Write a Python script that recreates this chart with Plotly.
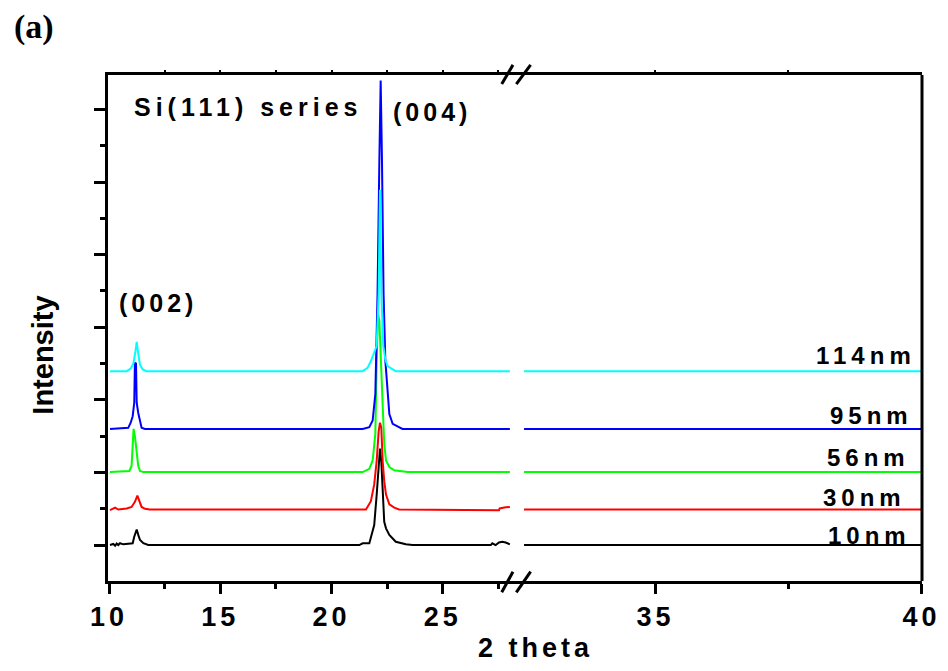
import plotly.graph_objects as go

# ---------------- data ----------------
labels = ["10nm", "30nm", "56nm", "95nm", "114nm"]
colors = ["#000000", "#ff0000", "#00ff00", "#0000ff", "#00ffff"]
offsets = [0.0, 0.98, 2.01, 3.2, 4.79]

x_10 = [10.04, 10.19, 10.27, 10.34, 10.41, 10.49, 10.64, 10.79, 10.94, 11.06, 11.13, 11.24, 11.31, 11.39, 11.54, 11.76,
        21.25, 21.40, 21.70, 21.85, 21.92, 22.03, 22.12, 22.18, 22.24, 22.30, 22.37, 22.45, 22.60, 22.89, 23.34, 23.64,
        27.16, 27.23, 27.38, 27.53, 27.68, 27.83, 27.98, 28.02]
y_10 = [0.0, 0.03, -0.02, 0.04, 0.0, 0.05, 0.02, 0.03, 0.04, 0.05, 0.23, 0.43, 0.28, 0.14, 0.05, 0.0,
        0.0, 0.05, 0.05, 0.37, 0.55, 1.38, 2.3, 2.66, 2.3, 1.38, 0.64, 0.46, 0.28, 0.09, 0.02, 0.0,
        0.0, 0.05, 0.0, 0.07, 0.09, 0.07, 0.02, 0.02]

x_30 = [10.04, 10.19, 10.27, 10.41, 10.79, 11.01, 11.16, 11.27, 11.36, 11.46, 11.61, 11.83,
        21.55, 21.77, 21.92, 22.03, 22.12, 22.18, 22.24, 22.30, 22.37, 22.45, 22.60, 22.82, 23.04,
        27.53, 27.56, 27.68, 27.83, 28.02]
y_30 = [-0.02, 0.03, 0.05, 0.0, 0.03, 0.07, 0.21, 0.38, 0.21, 0.07, 0.02, 0.0,
        0.0, 0.23, 0.69, 1.33, 2.16, 2.39, 2.25, 1.33, 0.78, 0.41, 0.14, 0.05, 0.0,
        -0.02, 0.03, 0.05, 0.06, 0.07]

x_56 = [10.04, 10.91, 11.01, 11.06, 11.10, 11.16, 11.24, 11.31, 11.39, 11.54,
        21.40, 21.70, 21.85, 21.97, 22.03, 22.09, 22.15, 22.22, 22.30, 22.37, 22.45, 22.60, 22.82, 23.42,
        28.02]
y_56 = [0.0, 0.03, 0.17, 0.99, 1.19, 0.99, 0.53, 0.17, 0.03, 0.0,
        0.0, 0.09, 0.32, 1.06, 3.08, 4.36, 4.18, 3.08, 1.70, 0.78, 0.32, 0.14, 0.05, 0.0,
        0.0]

x_95 = [10.04, 10.86, 10.97, 11.06, 11.13, 11.16, 11.21, 11.24, 11.31, 11.39, 11.46, 11.61,
        21.40, 21.70, 21.85, 21.97, 22.07, 22.15, 22.21, 22.27, 22.34, 22.42, 22.52, 22.60, 22.75, 23.04, 23.19,
        28.02]
y_95 = [0.0, 0.03, 0.17, 0.35, 0.72, 1.82, 1.80, 0.72, 0.44, 0.17, 0.03, 0.0,
        0.0, 0.05, 0.23, 0.96, 3.72, 7.35, 9.6, 7.35, 3.72, 1.88, 0.96, 0.41, 0.14, 0.05, 0.0,
        0.0]

x_114 = [10.04, 10.79, 10.97, 11.09, 11.18, 11.24, 11.30, 11.39, 11.51, 11.68,
         21.40, 21.62, 21.77, 21.92, 22.03, 22.12, 22.18, 22.24, 22.33, 22.42, 22.52, 22.75, 22.89,
         28.02]
y_114 = [0.0, 0.0, 0.07, 0.21, 0.53, 0.81, 0.53, 0.17, 0.05, 0.0,
         0.0, 0.09, 0.28, 0.51, 0.69, 2.16, 5.0, 2.16, 0.69, 0.32, 0.14, 0.05, 0.0,
         0.0]

x_right = [32.53, 40.0]          # flat baselines after the axis break
y_right = [0.0, 0.0]

xs = [x_10, x_30, x_56, x_95, x_114]
ys = [y_10, y_30, y_56, y_95, y_114]

left_ticks = [10, 15, 20, 25]
left_minor = [12.5, 17.5, 22.5, 27.5]
left_top = [12.5, 15, 17.5, 20, 22.5, 25, 27.5]
right_ticks = [35, 40]
right_minor = [37.5]
right_top = [35, 37.5]
y_major = [0, 2, 4, 6, 8, 10, 12]
y_minor = [1, 3, 5, 7, 9, 11]

label_pos = {  # paper coordinates of the curve labels (right edge, middle)
    "114nm": (0.995, 0.4466), "95nm": (0.992, 0.328), "56nm": (0.988, 0.245),
    "30nm": (0.983, 0.166), "10nm": (0.989, 0.0909)}

# ---------------- figure ----------------
fig = go.Figure()
for name, c, off, x, y in zip(labels, colors, offsets, xs, ys):
    fig.add_trace(go.Scatter(x=x, y=[v + off for v in y], mode="lines",
                             line=dict(color=c, width=2), xaxis="x", yaxis="y",
                             showlegend=False, hoverinfo="skip"))
    fig.add_trace(go.Scatter(x=x_right, y=[v + off for v in y_right], mode="lines",
                             line=dict(color=c, width=2), xaxis="x2", yaxis="y",
                             showlegend=False, hoverinfo="skip"))
# empty traces so the top tick axes are drawn
fig.add_trace(go.Scatter(x=[], y=[], xaxis="x3", yaxis="y", showlegend=False, hoverinfo="skip"))
fig.add_trace(go.Scatter(x=[], y=[], xaxis="x4", yaxis="y", showlegend=False, hoverinfo="skip"))

tickfont = dict(family="Liberation Sans", size=27, color="black", weight="bold")
axis_common = dict(showline=True, linewidth=3, linecolor="black", mirror=True,
                   ticks="outside", ticklen=10, tickwidth=3, tickcolor="black",
                   showgrid=False, zeroline=False, tickfont=tickfont,
                   anchor="y")
top_common = dict(side="top", anchor="y", showline=False, showgrid=False, zeroline=False,
                  ticks="outside", ticklen=4, tickwidth=2, tickcolor="black",
                  showticklabels=False)

fig.update_layout(
    width=948, height=671,
    margin=dict(l=108, r=24, t=75, b=90),
    paper_bgcolor="white", plot_bgcolor="white",
    xaxis=dict(domain=[0, 0.5], range=[9.95, 28.25], tickvals=left_ticks,
               minor=dict(tickvals=left_minor, ticks="outside", ticklen=5, tickwidth=3, tickcolor="black"),
               **axis_common),
    xaxis2=dict(domain=[0.5, 1], range=[32.36, 40.01], tickvals=right_ticks,
                minor=dict(tickvals=right_minor, ticks="outside", ticklen=5, tickwidth=3, tickcolor="black"),
                **axis_common),
    xaxis3=dict(overlaying="x", range=[9.95, 28.25], tickvals=left_top, **top_common),
    xaxis4=dict(overlaying="x2", range=[32.36, 40.01], tickvals=right_top, **top_common),
    yaxis=dict(range=[-0.99, 12.95], showline=True, linewidth=3, linecolor="black",
               ticks="outside", ticklen=11, tickwidth=3, tickcolor="black",
               tickvals=y_major, showticklabels=False, showgrid=False, zeroline=False,
               minor=dict(tickvals=y_minor, ticks="outside", ticklen=5, tickwidth=3, tickcolor="black"),
               anchor="x"),
)

# right frame line and axis-break marks
fig.add_shape(type="line", xref="paper", yref="paper", x0=1, x1=1, y0=0, y1=1,
              line=dict(color="black", width=3))
for (bx0, bx1) in [(0.4837, 0.4975), (0.5016, 0.5192)]:
    fig.add_shape(type="line", xref="paper", yref="paper", x0=bx0, x1=bx1, y0=-0.0223, y1=0.0184,
                  line=dict(color="black", width=3))
    fig.add_shape(type="line", xref="paper", yref="paper", x0=bx0, x1=bx1, y0=0.982, y1=1.02,
                  line=dict(color="black", width=3))

bold = dict(family="Liberation Sans", color="black", weight="bold")
def ann(text, x, y, size, xanchor="left", align="left", **kw):
    fig.add_annotation(text=text, x=x, y=y, xref="paper", yref="paper", showarrow=False,
                       xanchor=xanchor, yanchor="middle", align=align,
                       font=dict(size=size, **bold), **kw)

ann("Si(111) series", 0.0294, 0.9368, 25)
ann("(004)", 0.348, 0.9269, 25)
ann("(002)", 0.011, 0.5494, 25)
for name in labels:
    px, py = label_pos[name]
    ann(name, px, py, 24, xanchor="right", align="right")
ann("2 theta", 0.5257, -0.1324, 27, xanchor="center", align="center")
ann("Intensity", -0.0803, 0.4466, 29, xanchor="center", align="center", textangle=-90)
fig.add_annotation(text="<b>(a)</b>", x=-0.0907, y=1.0949, xref="paper", yref="paper",
                   showarrow=False, xanchor="center", yanchor="middle",
                   font=dict(family="Liberation Serif", size=34, color="black"))

post = """
var gd = document.getElementById('{plot_id}');
var sp = {'Si(111) series':'5px','(004)':'4px','(002)':'4px','114nm':'5px','95nm':'5px',
          '56nm':'5px','30nm':'5px','10nm':'5px','2 theta':'4px',
          '10':'4px','15':'4px','20':'4px','25':'4px','35':'4px','40':'4px'};
gd.querySelectorAll('text').forEach(function(t){
  var s = t.textContent;
  if (sp[s]) { t.style.letterSpacing = sp[s]; }
});
"""

fig.write_html("out.html", post_script=post)
